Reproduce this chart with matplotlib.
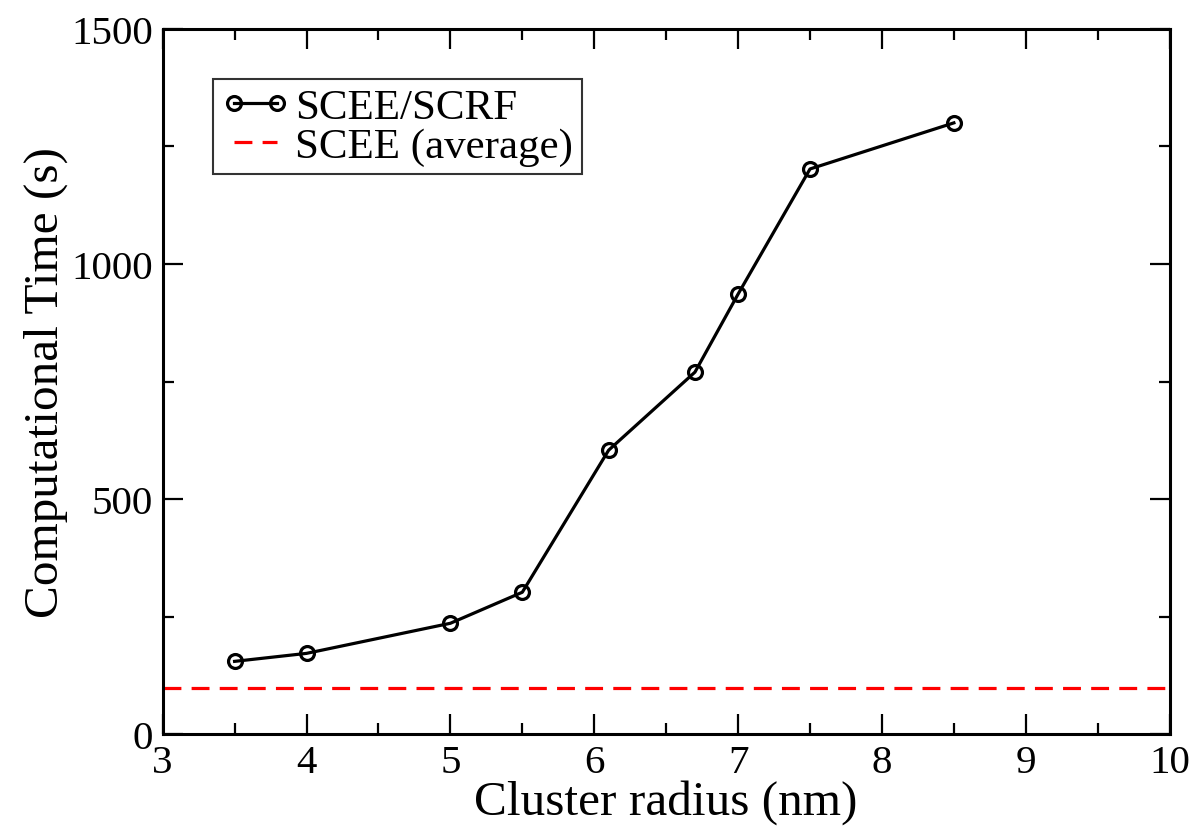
import matplotlib
matplotlib.use("Agg")
import matplotlib.pyplot as plt
from matplotlib.ticker import MultipleLocator

# cluster radius (nm) vs wall time (s)
radius = [3.5, 4.0, 5.0, 5.5, 6.1, 6.7, 7.0, 7.5, 8.5]
time_scrf = [155, 172, 236, 302, 604, 770, 936, 1202, 1300]
scee_avg = 98

plt.rcParams["font.family"] = ["Liberation Serif", "DejaVu Serif"]

fig = plt.figure(figsize=(11.96, 8.28), dpi=100)
ax = fig.add_axes([0.136, 0.112, 0.842, 0.852])

ax.plot(radius, time_scrf, color="black", lw=2.3, marker="o", ms=10,
        mfc="none", mec="black", mew=2.3, label="SCEE/SCRF")
ax.axhline(scee_avg, color="red", lw=2.3, dashes=(5.6, 3.2), label="SCEE (average)")

ax.set_xlim(3, 10)
ax.set_ylim(0, 1500)
ax.xaxis.set_major_locator(MultipleLocator(1))
ax.xaxis.set_minor_locator(MultipleLocator(0.5))
ax.yaxis.set_major_locator(MultipleLocator(500))
ax.yaxis.set_minor_locator(MultipleLocator(250))
ax.tick_params(which="both", direction="in", top=True, right=True, width=1.6)
ax.tick_params(which="major", length=14.5, labelsize=29.5, pad=7)
ax.tick_params(which="minor", length=8)
for s in ax.spines.values():
    s.set_linewidth(2.2)

ax.set_xlabel("Cluster radius (nm)", fontsize=35.5, labelpad=-1)
ax.set_ylabel("Computational Time (s)", fontsize=35.5, labelpad=2)

leg = ax.legend(loc="upper left", bbox_to_anchor=(0.0497, 0.929), borderaxespad=0,
                fontsize=31, frameon=True, fancybox=False, edgecolor="black",
                handlelength=1.6, handletextpad=0.12, borderpad=0.2,
                labelspacing=0.0, numpoints=2)
leg.get_frame().set_linewidth(1.5)

fig.savefig("out.png", dpi=100)
